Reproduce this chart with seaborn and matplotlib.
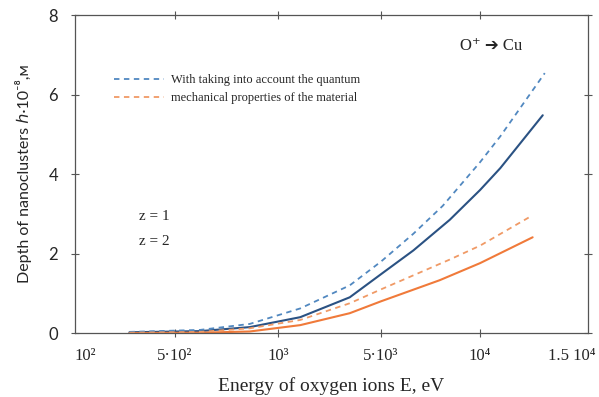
import pandas as pd
import seaborn as sns
import matplotlib.pyplot as plt

# x is the position on the (uneven) energy axis: one unit per tick label
tick_pos = [0.1, 0.99, 2.01, 3.03, 4.01, 4.92]
tick_labels = ["10²", "5·10²", "10³", "5·10³", "10⁴", "1.5 10⁴"]

# z = 1, with quantum mechanical properties (dashed)
z1_q_x = [0.54, 1.24, 1.73, 2.23, 2.72, 3.03, 3.35, 3.64, 4.01, 4.21, 4.65]
z1_q_y = [0.03, 0.08, 0.23, 0.62, 1.20, 1.80, 2.50, 3.20, 4.30, 4.95, 6.54]
# z = 1, classical (solid)
z1_x = [0.54, 1.24, 1.73, 2.23, 2.72, 3.05, 3.35, 3.71, 4.01, 4.21, 4.63]
z1_y = [0.02, 0.05, 0.15, 0.40, 0.90, 1.52, 2.08, 2.85, 3.60, 4.15, 5.48]
# z = 2, with quantum (dashed)
z2_q_x = [0.54, 1.24, 1.73, 2.23, 2.72, 3.03, 3.71, 4.01, 4.50]
z2_q_y = [0.01, 0.03, 0.12, 0.33, 0.75, 1.10, 1.85, 2.20, 2.92]
# z = 2, classical (solid)
z2_x = [0.54, 1.24, 1.73, 2.23, 2.72, 3.03, 3.61, 4.01, 4.53]
z2_y = [0.00, 0.01, 0.04, 0.20, 0.50, 0.80, 1.33, 1.76, 2.41]

legend_text = ["With taking into account the quantum",
               "mechanical properties of the material"]

blue = "#2b5283"
blue_light = "#5188c0"
orange = "#f07a3a"
orange_light = "#f09a66"

sns.set_style("ticks")
plt.rcParams["font.family"] = ["Liberation Serif", "DejaVu Sans"]

fig = plt.figure(figsize=(5.99, 3.97), dpi=100)
ax = fig.add_axes([0.125, 0.161, 0.857, 0.801])

sns.lineplot(x=z1_x, y=z1_y, ax=ax, color=blue, lw=1.5)
sns.lineplot(x=z2_x, y=z2_y, ax=ax, color=orange, lw=1.5)
sns.lineplot(x=z1_q_x, y=z1_q_y, ax=ax, color=blue_light, lw=1.3)
sns.lineplot(x=z2_q_x, y=z2_q_y, ax=ax, color=orange_light, lw=1.3)
lines = ax.get_lines()
lines[2].set_linestyle((0, (3, 2.5)))
lines[3].set_linestyle((0, (3, 2.5)))

ax.set_xlim(0, 5.08)
ax.set_ylim(0, 8)
ax.set_xticks(tick_pos)
ax.set_xticklabels(tick_labels, fontsize=12)
ax.set_yticks([0, 2, 4, 6, 8])
ax.set_yticklabels(["0", "2", "4", "6", "8"], family="Lato", fontsize=12)
ax.tick_params(axis="both", direction="inout", length=6, width=0.8, color="#555555",
               top=True, right=True)
ax.tick_params(axis="x", pad=8)
ax.tick_params(axis="y", pad=9)
xt = ax.xaxis.get_major_ticks()
for t in (xt[0], xt[-1]):
    t.tick1line.set_visible(False)
    t.tick2line.set_visible(False)

for s in ax.spines.values():
    s.set_color("#555555")
    s.set_linewidth(0.9)

ax.set_xlabel("Energy of oxygen ions E, eV", fontsize=14, labelpad=9)
ax.set_ylabel("Depth of nanoclusters ℎ·10⁻⁸,м", family=["Lato", "DejaVu Sans"],
              fontsize=11.5, labelpad=12)

leg = ax.legend(handles=[lines[2], lines[3]], labels=legend_text, loc="upper left",
                bbox_to_anchor=(0.055, 0.85), frameon=False, fontsize=9,
                handlelength=4.0, handletextpad=0.5, labelspacing=0.5)

ax.text(0.125, 0.355, "z = 1", transform=ax.transAxes, fontsize=11)
ax.text(0.125, 0.277, "z = 2", transform=ax.transAxes, fontsize=11)
ax.text(0.75, 0.89, "O⁺ ➔ Cu", transform=ax.transAxes, fontsize=12)

fig.savefig("out.png", dpi=100)
